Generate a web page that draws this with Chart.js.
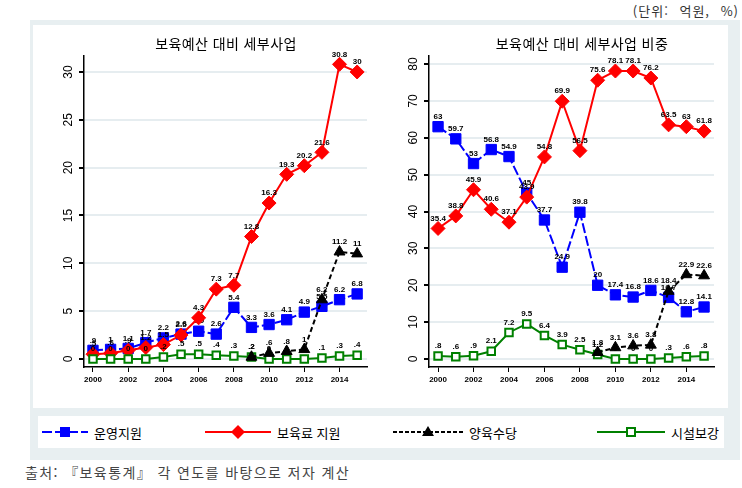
<!DOCTYPE html>
<html lang="ko">
<head>
<meta charset="utf-8">
<script src="https://cdn.jsdelivr.net/npm/chart.js@4.4.1/dist/chart.umd.min.js"></script>
<style>
  body { margin: 0; width: 742px; height: 488px; background: #fff; position: relative; overflow: hidden;
         font-family: "Noto Sans CJK KR", "Liberation Sans", sans-serif; color: #000; }
  .abs { position: absolute; }
  #panel { left: 30px; top: 20px; width: 710px; height: 440px; background: #e8eff1; }
  #plots { left: 33px; top: 25px; width: 695px; height: 383px; background: #fff; }
  #legend { left: 38px; top: 416px; width: 686px; height: 32px; background: #fff; }
  .title { top: 33px; font-size: 14px; letter-spacing: 0.4px; white-space: nowrap; transform: translateX(-50%); }
  .item { top: 0; height: 32px; display: flex; align-items: center; font-size: 13px; white-space: nowrap; }
  .item svg { margin-right: 6px; }
  #unit { right: 3px; top: 1px; font-size: 13px; letter-spacing: 1px; word-spacing: 6px; color: #333; white-space: nowrap; }
  #src { left: 25px; top: 462px; font-size: 14px; letter-spacing: 1.4px; color: #444; white-space: nowrap; }
</style>
</head>
<body>
<div id="unit" class="abs">(단위: 억원, %)</div>
<div id="panel" class="abs"></div>
<div id="plots" class="abs"></div>
<canvas id="leftChart" class="abs" width="345" height="380" style="left:33px;top:25px"></canvas>
<canvas id="rightChart" class="abs" width="345" height="380" style="left:383px;top:25px"></canvas>
<div class="abs title" style="left:226px">보육예산 대비 세부사업</div>
<div class="abs title" style="left:582px">보육예산 대비 세부사업 비중</div>
<div id="legend" class="abs"></div>
<div id="src" class="abs">출처: 『보육통계』 각 연도를 바탕으로 저자 계산</div>
<script>
const YEARS = [2000, 2001, 2002, 2003, 2004, 2005, 2006, 2007, 2008, 2009, 2010, 2011, 2012, 2013, 2014, 2015];

// 보육예산 대비 세부사업 (억원)
const AMT_OPS = [0.9, 1, 1.1, 1.7, 2.2, 2.6, 2.9, 2.6, 5.4, 3.3, 3.6, 4.1, 4.9, 5.5, 6.2, 6.8];
const AMT_FEE = [0.5, 0.6, 0.9, 1.2, 1.5, 2.5, 4.3, 7.3, 7.7, 12.8, 16.3, 19.3, 20.2, 21.6, 30.8, 30];
const AMT_FACILITY = [0, 0, 0, 0, 0.2, 0.5, 0.5, 0.4, 0.3, 0.2, 0, 0, 0, 0.1, 0.3, 0.4];
const AMT_HOMECARE = [null, null, null, null, null, null, null, null, null, 0.2, 0.6, 0.8, 1, 6.2, 11.2, 11];

// 보육예산 대비 세부사업 비중 (%)
const PCT_OPS = [63, 59.7, 53, 56.8, 54.9, 45, 37.7, 24.9, 39.8, 20, 17.4, 16.8, 18.6, 16.7, 12.8, 14.1];
const PCT_FEE = [35.4, 38.8, 45.9, 40.6, 37.1, 43.9, 54.8, 69.9, 56.5, 75.6, 78.1, 78.1, 76.2, 63.5, 63, 61.8];
const PCT_FACILITY = [0.8, 0.6, 0.9, 2.1, 7.2, 9.5, 6.4, 3.9, 2.5, 1.2, 0, 0, 0, 0.3, 0.6, 0.8];
const PCT_HOMECARE = [null, null, null, null, null, null, null, null, null, 1.8, 3.1, 3.6, 3.8, 18.4, 22.9, 22.6];

const LEFT_TICKS = [0, 5, 10, 15, 20, 25, 30];
const RIGHT_TICKS = [0, 10, 20, 30, 40, 50, 60, 70, 80];

const BLUE = "#0000ff";
const RED = "#ff0000";
const GREEN = "#008000";
const BLACK = "#000000";
const GRID = "#e6edf0";
const NUM_FONT = '"Liberation Sans", Arial, sans-serif';

const toPoints = (vals) => YEARS.map((yr, i) => ({ x: yr, y: vals[i] }));
const fmt = (v) => (v > 0 && v < 1 ? String(v).slice(1) : String(v));

function makeDatasets(ops, fee, facility, homecare) {
  return [
    { label: "운영지원", data: toPoints(ops), borderColor: BLUE, backgroundColor: BLUE, borderWidth: 2,
      borderDash: [10, 3], pointStyle: "rect", pointRadius: 7.3, pointBorderWidth: 1, order: 4 },
    { label: "보육료 지원", data: toPoints(fee), borderColor: RED, backgroundColor: RED, borderWidth: 2,
      pointStyle: "rectRot", pointRadius: 7, pointBorderWidth: 1, order: 3 },
    { label: "시설보강", data: toPoints(facility), borderColor: GREEN, backgroundColor: "#fff",
      pointBorderColor: GREEN, borderWidth: 2, pointStyle: "rect", pointRadius: 5.3, pointBorderWidth: 2, order: 2 },
    { label: "양육수당", data: toPoints(homecare), borderColor: BLACK, backgroundColor: BLACK, borderWidth: 2,
      borderDash: [5, 3], pointStyle: "triangle", pointRadius: 6.3, pointBorderWidth: 1, order: 1 }
  ];
}

const pointLabels = {
  id: "pointLabels",
  afterDatasetDraw(chart, args) {
    const ds = chart.data.datasets[args.index];
    const ctx = chart.ctx;
    ctx.save();
    ctx.font = "bold 8px " + NUM_FONT;
    ctx.fillStyle = "#000";
    ctx.textAlign = "center";
    ctx.textBaseline = "middle";
    args.meta.data.forEach((pt, i) => {
      const v = ds.data[i].y;
      if (v == null) return;
      ctx.fillText(fmt(v), pt.x, pt.y - 10);
    });
    ctx.restore();
  }
};

const rotatedY = {
  id: "rotatedY",
  afterDraw(chart) {
    const s = chart.scales.y;
    const ctx = chart.ctx;
    ctx.save();
    ctx.font = "12px " + NUM_FONT;
    ctx.fillStyle = "#000";
    ctx.textAlign = "center";
    ctx.textBaseline = "middle";
    s.ticks.forEach((t) => {
      const y = s.getPixelForValue(t.value);
      ctx.save();
      ctx.translate(chart.chartArea.left - 15, y);
      ctx.rotate(-Math.PI / 2);
      ctx.fillText(String(t.value), 0, 0);
      ctx.restore();
    });
    ctx.restore();
  }
};

function makeChart(id, datasets, yTicks, yMin, yMax, yWidth, padRight) {
  return new Chart(document.getElementById(id), {
    type: "line",
    data: { datasets },
    options: {
      responsive: false,
      animation: false,
      layout: { padding: { top: 31, right: padRight, left: 0, bottom: 0 } },
      plugins: { legend: { display: false }, tooltip: { enabled: false } },
      scales: {
        x: {
          type: "linear", min: 1999.49, max: 2015.56,
          afterBuildTicks: (s) => { s.ticks = YEARS.filter((y) => y % 2 === 0).map((v) => ({ value: v })); },
          afterFit: (s) => { s.height = 38; },
          ticks: { callback: (v) => String(v), font: { family: NUM_FONT, size: 8, weight: "bold" },
                   color: "#000", padding: 3, maxRotation: 0, autoSkip: false },
          grid: { drawOnChartArea: false, tickColor: "#000", tickLength: 5 },
          border: { color: "#000", width: 1.5 }
        },
        y: {
          min: yMin, max: yMax,
          afterBuildTicks: (s) => { s.ticks = yTicks.map((v) => ({ value: v })); },
          afterFit: (s) => { s.width = yWidth; },
          ticks: { color: "rgba(0,0,0,0)", font: { size: 12 } },
          grid: { color: GRID, lineWidth: 2, tickColor: "#000", tickLength: 5 },
          border: { color: "#000", width: 1.5 }
        }
      }
    },
    plugins: [pointLabels, rotatedY]
  });
}

makeChart("leftChart", makeDatasets(AMT_OPS, AMT_FEE, AMT_FACILITY, AMT_HOMECARE), LEFT_TICKS, -0.84, 31.67, 51, 11);
makeChart("rightChart", makeDatasets(PCT_OPS, PCT_FEE, PCT_FACILITY, PCT_HOMECARE), RIGHT_TICKS, -2.17, 82.17, 46, 14);

// shared legend
const legendItems = [
  { label: "운영지원", left: 4, w: 46, svg: `<line x1="0" y1="8" x2="46" y2="8" stroke="${BLUE}" stroke-width="2" stroke-dasharray="10 3"/><rect x="18" y="3" width="10" height="10" fill="${BLUE}"/>` },
  { label: "보육료 지원", left: 167, w: 66, svg: `<line x1="0" y1="8" x2="66" y2="8" stroke="${RED}" stroke-width="2"/><polygon points="33,1 40,8 33,15 26,8" fill="${RED}"/>` },
  { label: "양육수당", left: 355, w: 70, svg: `<line x1="0" y1="8" x2="70" y2="8" stroke="${BLACK}" stroke-width="2" stroke-dasharray="4 2"/><polygon points="35,2 41,12 29,12" fill="${BLACK}"/>` },
  { label: "시설보강", left: 559, w: 68, svg: `<line x1="0" y1="8" x2="68" y2="8" stroke="${GREEN}" stroke-width="2"/><rect x="30" y="4" width="8" height="8" fill="#fff" stroke="${GREEN}" stroke-width="2"/>` }
];
document.getElementById("legend").innerHTML = legendItems
  .map((it) => `<div class="abs item" style="left:${it.left}px"><svg width="${it.w}" height="16">${it.svg}</svg>${it.label}</div>`)
  .join("");
</script>
</body>
</html>
